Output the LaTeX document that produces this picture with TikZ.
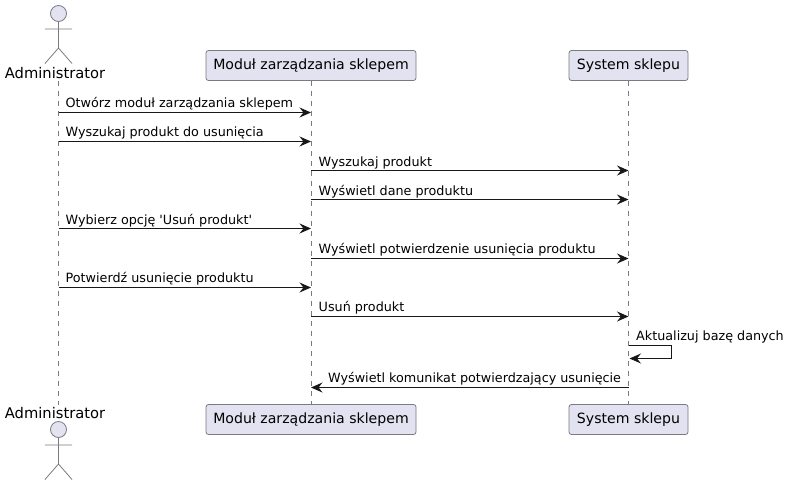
\documentclass[tikz,border=0pt]{standalone}
\usepackage{fontspec}
\newfontfamily\djsans{DejaVu Sans}
\usetikzlibrary{arrows.meta}
\definecolor{pfill}{HTML}{E2E2F0}
\definecolor{pline}{HTML}{7A7A82}
\definecolor{aline}{HTML}{181818}
\tikzset{
  x=1pt,y=-1pt,
  partbox/.style={draw=pline,fill=pfill,rounded corners=2.5pt,line width=.8pt,minimum height=30pt,inner sep=0pt,font=\djsans\fontsize{14.1}{16}\selectfont,text=black,text height=10.5pt,text depth=3pt},
  lifeline/.style={draw=pline,line width=.7pt,dash pattern=on 5pt off 5pt},
  msg/.style={draw=aline,line width=1pt,-{Stealth[length=11.5pt,width=10pt,inset=4pt,fill=aline]}},
  msgtext/.style={anchor=base west,inner sep=0pt,font=\djsans\fontsize{12.75}{15}\selectfont,text=black},
  acttext/.style={anchor=base,inner sep=0pt,font=\djsans\fontsize{14.7}{16}\selectfont,text=black},
  actline/.style={draw=pline,line width=.8pt},
  acthead/.style={circle,draw=pline,fill=pfill,line width=.8pt,minimum size=16pt,inner sep=0pt},
}
\begin{document}
\begin{tikzpicture}
\useasboundingbox (0,0) rectangle (789,485);
% participants
\node[acttext] (adminT) at (55,78) {Administrator};
\node[acttext] (adminB) at (55,418) {Administrator};
\node[partbox,minimum width=210pt] (modT) at (311,65.5) {Moduł zarządzania sklepem};
\node[partbox,minimum width=210pt] (modB) at (311,419.5) {Moduł zarządzania sklepem};
\node[partbox,minimum width=119pt] (sysT) at (628.5,65.5) {System sklepu};
\node[partbox,minimum width=119pt] (sysB) at (628.5,419.5) {System sklepu};
% lifelines
\coordinate (aT) at (58.5,81);
\coordinate (aB) at (58.5,405);
\draw[lifeline] (aT) -- (aB);
\draw[lifeline] (modT.south) -- (modB.north);
\draw[lifeline] (sysT.south) -- (sysB.north);
% actors
\node[acthead] (headT) at (58.5,13.5) {};
\coordinate (hipT) at (58.5,48);
\coordinate (armLT) at (45,29);
\coordinate (armRT) at (72,29);
\coordinate (legLT) at (45,63.5);
\coordinate (legRT) at (72,63.5);
\draw[actline] (headT.south) -- (hipT) (armLT) -- (armRT) (legLT) -- (hipT) -- (legRT);
\node[acthead] (headB) at (58.5,429.5) {};
\coordinate (hipB) at (58.5,464);
\coordinate (armLB) at (45,445);
\coordinate (armRB) at (72,445);
\coordinate (legLB) at (45,479.5);
\coordinate (legRB) at (72,479.5);
\draw[actline] (headB.south) -- (hipB) (armLB) -- (armRB) (legLB) -- (hipB) -- (legRB);
% lifeline stations
\foreach \n/\y in {1/112.5,2/141.5,3/170.5,4/199.5,5/228.5,6/258.5,7/287.5,8/316.5,9/345.5,10/358.5,11/387.5}{
  \coordinate (a\n) at (58.5,\y);
  \coordinate (m\n) at (311,\y);
  \coordinate (s\n) at (628.5,\y);
}
\coordinate (selfR) at (671.5,345.5);
\coordinate (selfS) at (671.5,358.5);
% messages
\draw[msg] (a1) -- (m1);
\node[msgtext] (t1) at (65.5,107) {Otwórz moduł zarządzania sklepem};
\draw[msg] (a2) -- (m2);
\node[msgtext] (t2) at (65.5,136) {Wyszukaj produkt do usunięcia};
\draw[msg] (m3) -- (s3);
\node[msgtext] (t3) at (318.5,166) {Wyszukaj produkt};
\draw[msg] (m4) -- (s4);
\node[msgtext] (t4) at (318.5,195) {Wyświetl dane produktu};
\draw[msg] (a5) -- (m5);
\node[msgtext] (t5) at (65.5,224) {Wybierz opcję 'Usuń produkt'};
\draw[msg] (m6) -- (s6);
\node[msgtext] (t6) at (318.5,253) {Wyświetl potwierdzenie usunięcia produktu};
\draw[msg] (a7) -- (m7);
\node[msgtext] (t7) at (65.5,282) {Potwierdź usunięcie produktu};
\draw[msg] (m8) -- (s8);
\node[msgtext] (t8) at (318.5,311) {Usuń produkt};
\draw[msg] (s9) -- (selfR) -- (selfS) -- ([xshift=1pt]s10);
\node[msgtext] (t9) at (636,340) {Aktualizuj bazę danych};
\draw[msg] (s11) -- (m11);
\node[msgtext] (t11) at (328,382) {Wyświetl komunikat potwierdzający usunięcie};
\end{tikzpicture}
\end{document}
